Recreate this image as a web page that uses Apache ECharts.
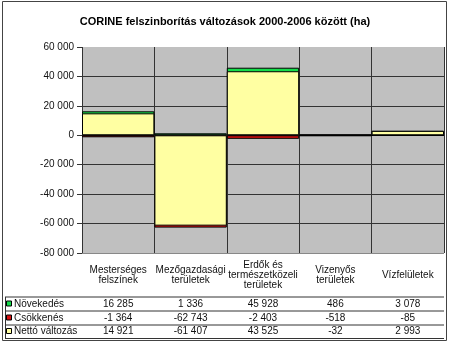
<!DOCTYPE html>
<html>
<head>
<meta charset="utf-8">
<script src="https://cdn.jsdelivr.net/npm/echarts@6/dist/echarts.min.js"></script>
<style>
  html, body { margin: 0; padding: 0; background: #fff; }
  #chart { width: 450px; height: 345px; }
</style>
</head>
<body>
<div id="chart"></div>
<script>
// Land-cover change data, 2000-2006 (hectares)
const chartTitle = 'CORINE felszinborítás változások 2000-2006 között (ha)';
const categories = [
  'Mesterséges\nfelszínek',
  'Mezőgazdasági\nterületek',
  'Erdők és\ntermészetközeli\nterületek',
  'Vizenyős\nterületek',
  'Vízfelületek'
];
const seriesNames = ['Növekedés', 'Csökkenés', 'Nettó változás'];
const growth  = [16285, 1336, 45928, 486, 3078];
const decline = [-1364, -62743, -2403, -518, -85];
const net     = [14921, -61407, 43525, -32, 2993];

// Value axis range
const yMin = -80000, yMax = 60000, yStep = 20000;

const colors = ['#14dc4a', '#d81010', '#ffffa2'];
const FONT = '"Liberation Sans", Arial, sans-serif';

// thousands separated by a space: 16285 -> "16 285"
const fmt = v => String(v).replace(/\B(?=(\d{3})+(?!\d))/g, '\u00a0');

const rows = [growth, decline, net];
const rowCenters = [304, 318, 331.5];   // table row centres (px)
const plotBottom = 253;

const chart = echarts.init(document.getElementById('chart'), null, { renderer: 'canvas' });

// extra category axes carry the numeric rows of the data table
const valueAxes = rows.map((vals, r) => ({
  type: 'category',
  gridIndex: 0,
  position: 'bottom',
  offset: rowCenters[r] - plotBottom,
  data: categories,
  axisLine: { show: false },
  axisTick: { show: false },
  splitLine: { show: false },
  axisLabel: {
    interval: 0,
    margin: 0,
    verticalAlign: 'middle',
    fontSize: 10,
    fontFamily: FONT,
    color: '#111',
    formatter: (v, i) => fmt(vals[i])
  }
}));

// legend keys + names in the table's first column
const legendGraphics = [];
seriesNames.forEach((name, r) => {
  legendGraphics.push({
    type: 'rect',
    shape: { x: 6.5, y: rowCenters[r] - 3, width: 5, height: 5 },
    style: { fill: colors[r], stroke: '#000', lineWidth: 1 }
  });
  legendGraphics.push({
    type: 'text',
    x: 14, y: rowCenters[r],
    style: { text: name, fontSize: 10, fontFamily: FONT, fill: '#111', verticalAlign: 'middle' }
  });
});

// horizontal rules of the table
const tableLines = [297, 311, 325, 338.5].map(y => ({
  type: 'line',
  shape: { x1: 5, y1: y, x2: 444, y2: y },
  style: { stroke: '#333', lineWidth: 1 }
}));

const option = {
  animation: false,
  backgroundColor: '#fff',
  title: {
    text: chartTitle,
    left: 'center',
    top: 11,
    textStyle: { fontSize: 11, fontWeight: 'bold', fontFamily: FONT, color: '#000' }
  },
  grid: {
    left: 82, right: 6, top: 47, bottom: 92,
    show: true, backgroundColor: '#c0c0c0', borderWidth: 0
  },
  xAxis: [{
    type: 'category',
    data: categories,
    position: 'bottom',
    axisLine: { show: false },
    axisTick: { show: true, inside: false, length: 85.5, lineStyle: { color: '#333', width: 1 } },
    splitLine: { show: true, lineStyle: { color: '#333', width: 1 } },
    axisLabel: {
      interval: 0,
      margin: 22,
      verticalAlign: 'middle',
      lineHeight: 10,
      fontSize: 10,
      fontFamily: FONT,
      color: '#111'
    }
  }].concat(valueAxes),
  yAxis: {
    type: 'value',
    min: yMin, max: yMax, interval: yStep,
    axisLine: { show: false },
    axisTick: { show: true, length: 5, lineStyle: { color: '#333' } },
    splitLine: {
      show: true,
      lineStyle: { color: ['#888', '#333', '#333', '#333', '#333', '#333', '#333', '#c0c0c0'], width: 1 }
    },
    axisLabel: {
      margin: 8,
      fontSize: 10,
      fontFamily: FONT,
      color: '#111',
      formatter: v => fmt(v)
    }
  },
  series: [growth, decline, net].map((d, i) => ({
    name: seriesNames[i],
    type: 'bar',
    xAxisIndex: 0,
    data: d,
    barGap: '-100%',
    barCategoryGap: 0,
    itemStyle: { color: colors[i], borderColor: '#000', borderWidth: 1 },
    z: 2 + i
  })),
  graphic: [
    {
      type: 'rect',
      shape: { x: 2.5, y: 1.5, width: 444, height: 339 },
      style: { fill: 'none', stroke: '#444', lineWidth: 1 },
      silent: true
    },
    {
      type: 'line',
      shape: { x1: 5.5, y1: 297, x2: 5.5, y2: 338.5 },
      style: { stroke: '#333', lineWidth: 1 }
    }
  ].concat(tableLines, legendGraphics)
};

chart.setOption(option);
</script>
</body>
</html>
